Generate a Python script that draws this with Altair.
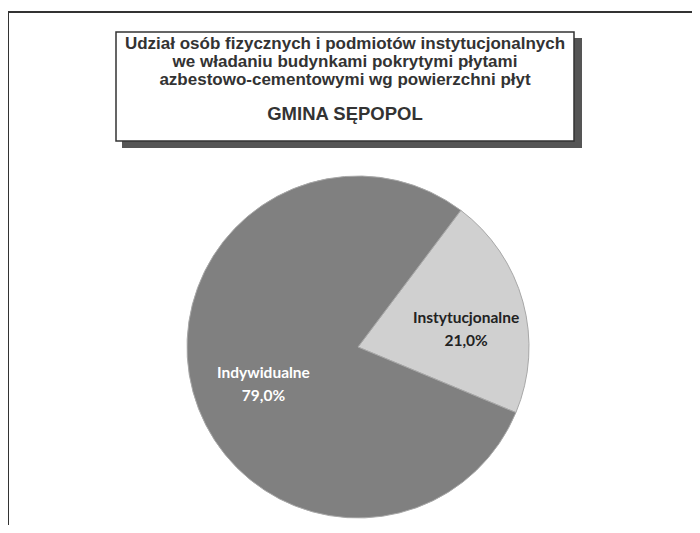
import altair as alt
import pandas as pd

categories = ["Instytucjonalne", "Indywidualne"]
values = [21.0, 79.0]
labels = ["21,0%", "79,0%"]
title_lines = [
    "Udział osób fizycznych i podmiotów instytucjonalnych",
    "we władaniu budynkami pokrytymi płytami",
    "azbestowo-cementowymi wg powierzchni płyt",
]
subtitle = "GMINA SĘPOPOL"

df = pd.DataFrame({"cat": categories, "val": values, "pct": labels})
df["txt"] = df["cat"] + "\n" + df["pct"]

W, H = 684, 517
CX, CY, R = 350, 339, 171
start = 0.645

color = alt.Color("cat:N", scale=alt.Scale(domain=categories, range=["#d0d0d0", "#808080"]), legend=None)
theta = alt.Theta("val:Q", stack=True, scale=alt.Scale(range=[start, start + 6.283185]))
order = alt.Order("ord:Q")

base = alt.Chart(df).transform_calculate(ord="datum.cat == 'Instytucjonalne' ? 0 : 1")

pie = base.mark_arc(stroke="#a8a8a8", strokeWidth=1).encode(
    theta=theta, color=color, order=order,
    x=alt.value(CX), y=alt.value(CY), radius=alt.value(R),
)

lab_inst = base.mark_text(font="Lato", fontSize=15.5, fontWeight="bold", color="#222222",
                          lineBreak="\n", lineHeight=23, baseline="middle").encode(
    theta=theta, order=order, text="txt:N",
    x=alt.value(CX), y=alt.value(CY), radius=alt.value(112),
    opacity=alt.condition("datum.cat == 'Instytucjonalne'", alt.value(1), alt.value(0)),
)
lab_ind = base.mark_text(font="Lato", fontSize=15.5, fontWeight="bold", color="white",
                         lineBreak="\n", lineHeight=23, baseline="middle").encode(
    theta=theta, order=order, text="txt:N",
    x=alt.value(CX), y=alt.value(CY), radius=alt.value(98),
    opacity=alt.condition("datum.cat == 'Indywidualne'", alt.value(1), alt.value(0)),
)

deco = pd.DataFrame({"k": [0]})
dbase = alt.Chart(deco)
frame_top = dbase.mark_rule(color="#333333", strokeWidth=2).encode(
    x=alt.value(0), x2=alt.value(W), y=alt.value(4))
frame_left = dbase.mark_rule(color="#333333", strokeWidth=2).encode(
    x=alt.value(0), y=alt.value(4), y2=alt.value(H))
shadow = dbase.mark_rect(color="#555555").encode(
    x=alt.value(114), x2=alt.value(574), y=alt.value(30), y2=alt.value(140))
box = dbase.mark_rect(fill="white", stroke="#333333", strokeWidth=1.5).encode(
    x=alt.value(108), x2=alt.value(566), y=alt.value(24), y2=alt.value(133))

tdf = pd.DataFrame({"t": title_lines + [subtitle], "row": [0, 1, 2, 3]})
tdf["ty"] = [36, 54, 72, 106]
tdf["fs"] = [17, 17, 17, 18.5]
title_text = alt.Chart(tdf).mark_text(font="Liberation Sans", fontWeight="bold",
                                      color="#333333", baseline="middle", align="center").encode(
    x=alt.value(337), y=alt.Y("ty:Q", scale=None), text="t:N",
    size=alt.Size("fs:Q", scale=None))

chart = alt.layer(frame_top, frame_left, shadow, box, title_text, pie, lab_inst, lab_ind).properties(
    width=W, height=H, padding=0, autosize=alt.AutoSizeParams(type="none"),
    background="white",
).configure_view(stroke=None)

chart.save("out.html", embed_options={"renderer": "svg", "actions": False})
